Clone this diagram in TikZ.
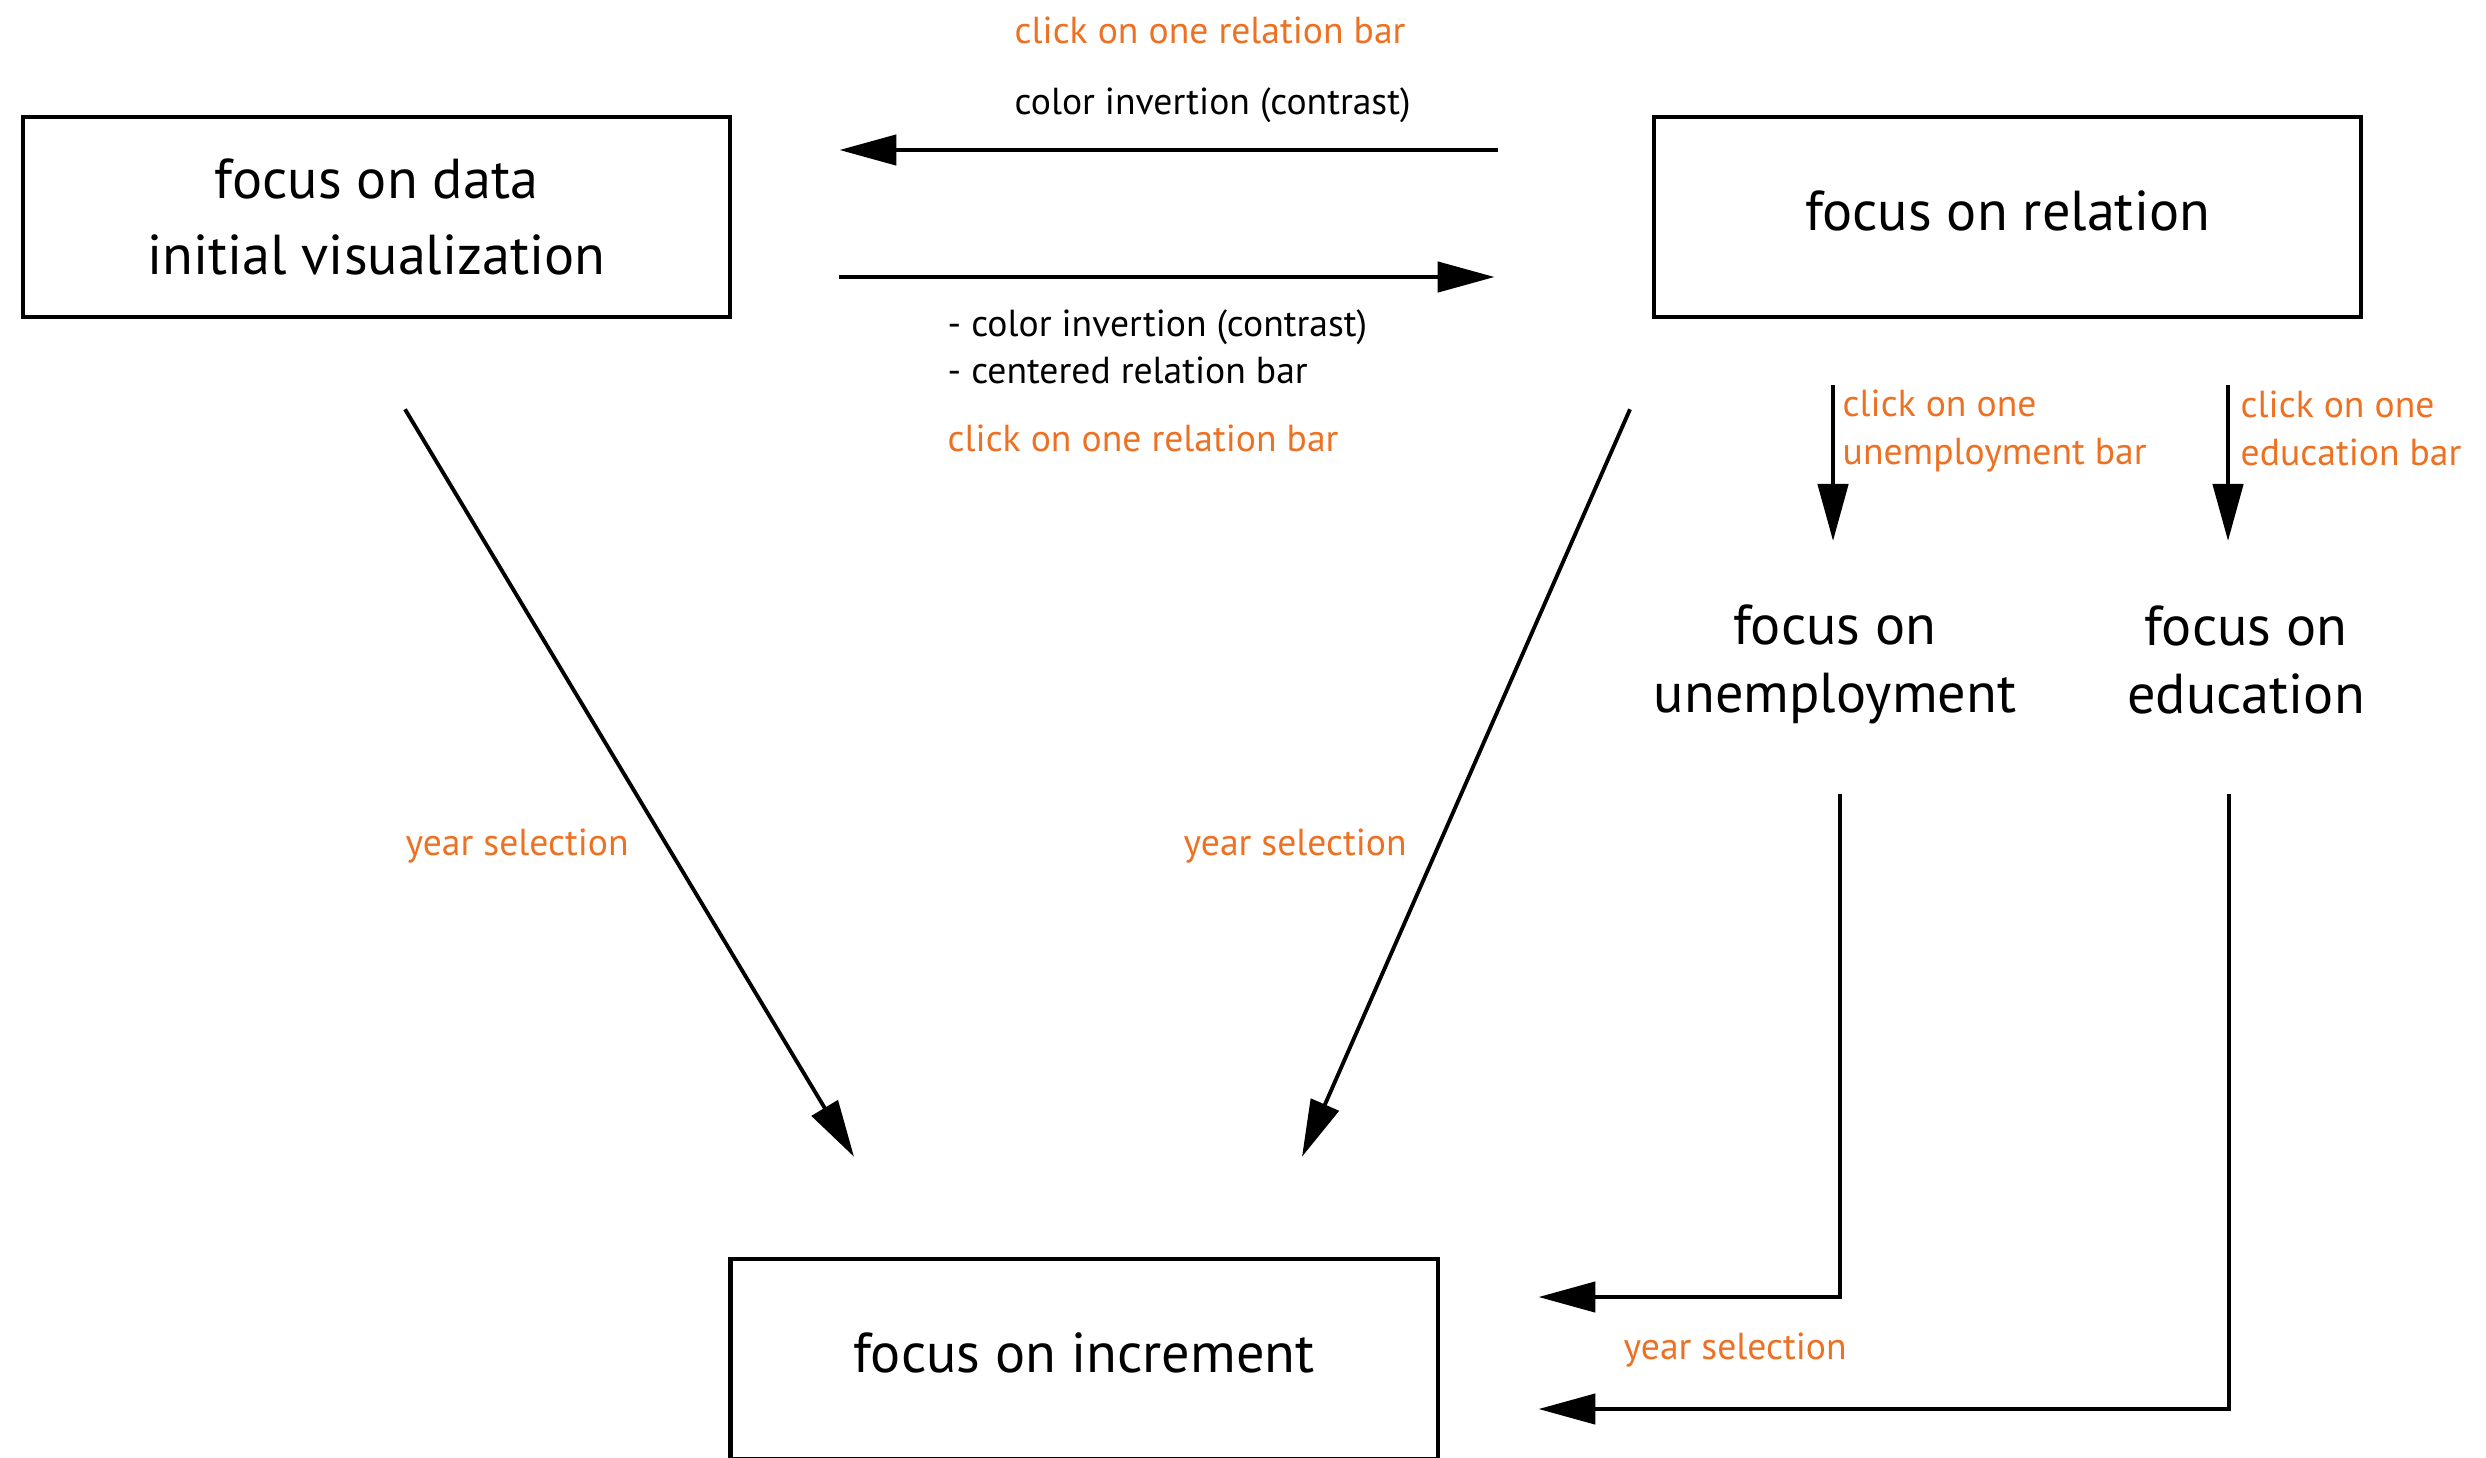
\documentclass[tikz,border=0pt]{standalone}
\usepackage{fontspec}
\setmainfont{PT Sans}
\usetikzlibrary{arrows.meta, positioning, calc}
\definecolor{clickorange}{RGB}{237,113,35}

\begin{document}
\begin{tikzpicture}[x=0.01cm, y=-0.01cm,
		box/.style = {draw, line width=1.25pt, minimum width=7.07cm, minimum height=2cm,
			align=center, font=\fontsize{16}{21.8}\selectfont},
		view/.style = {align=center, font=\fontsize{16}{19.3}\selectfont},
		note/.style = {anchor=west, inner sep=0pt, align=left, font=\fontsize{10.7}{13.2}\selectfont},
		click/.style = {note, text=clickorange},
		flow/.style = {line width=1.3pt, -{Triangle[length=5.7mm, width=3mm]}}
		]
		\useasboundingbox (0,0) rectangle (2486,1457);
		
		\node at (376.5,217) (data) [box] {focus on data\\initial visualization};
		\node at (2007.5,217) (rel) [box, text depth=3.5pt] {focus on relation};
		\node at (1084,1359) (inc) [box, text depth=3.5pt] {focus on increment};
		
		\node at (1835,664) (unemp) [view] {focus on\\unemployment};
		\node at (2246,660) (edu) [view] {focus on\\education};
		
		% labels
		\node at (1014,30) (clicktop) [click] {click on one relation bar};
		\node at (1014,105) (invtop) [note] {color invertion (contrast)};
		\node at (947,347) (invbot) [note] {- color invertion (contrast)\\- centered relation bar};
		\node at (947,438) (clickbot) [click] {click on one relation bar};
		\node at (405,846) (yearl) [click] {year selection};
		\node at (1183,846) (yearr) [click] {year selection};
		\node at (1842,431) (clickun) [click, font=\fontsize{10.7}{13.6}\selectfont] {click on one\\unemployment bar};
		\node at (2240,428) (clicked) [click, font=\fontsize{10.7}{13.6}\selectfont] {click on one\\education bar};
		\node at (1623,1350) (yearb) [click] {year selection};
		
		\path [flow]
		($(rel.west)+(-154,-67)$) edge ($(data.east)+(107,-67)$)
		($(data.east)+(107,60)$) edge ($(rel.west)+(-157,60)$)
		
		($(unemp)+(-2,-279)$) edge ($(unemp)+(-2,-123)$)
		($(edu)+(-18,-275)$) edge ($(edu)+(-18,-119)$);
		
		\path [flow, line width=1.1pt]
		($(data.south)+(28.5,90)$) edge ($(inc.north)+(-230,-100)$)
		($(rel.south)+(-377.5,90)$) edge ($(inc.north)+(218,-100)$);
		
		\draw [flow] ($(unemp)+(5,130)$) |- ($(inc.east)+(98.5,-62)$);
		\draw [flow] ($(edu)+(-17,134)$) |- ($(inc.east)+(98.5,50)$);
	\end{tikzpicture}
\end{document}
